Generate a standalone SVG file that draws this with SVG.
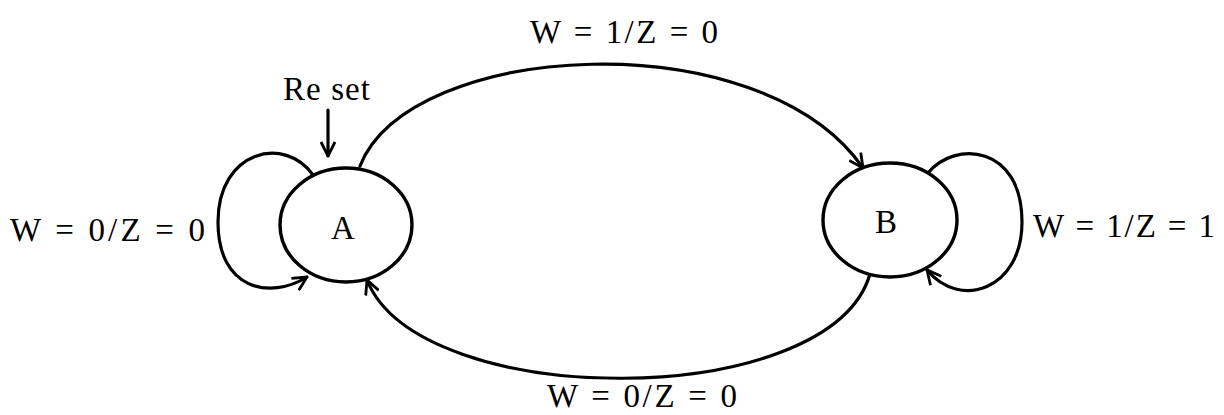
<svg xmlns="http://www.w3.org/2000/svg" width="1224" height="415" viewBox="0 0 1224 415">
<style>
.edge{fill:none;stroke:#000;stroke-width:3.2;stroke-linecap:round}
.node{fill:#fff;stroke:#000;stroke-width:3.4}
.t{font-family:"Liberation Serif","Times New Roman",serif;font-size:33px;fill:#000}
</style>
<defs>
<marker id="arr2" viewBox="0 0 16 16" refX="15" refY="8" markerWidth="16" markerHeight="16" markerUnits="userSpaceOnUse" orient="auto">
<path d="M1,1 L15,8 L1,15" fill="none" stroke="#000" stroke-width="2.8"/>
</marker>
</defs>
<rect width="1224" height="415" fill="#fff"/>
<g id="connectors">
<path class="edge" d="M360,166 C410,40 760,20 863,168" marker-end="url(#arr2)"/>
<path class="edge" d="M870,274 C830,412 420,412 367,280" marker-end="url(#arr2)"/>
<path class="edge" d="M313,175 C285,135 218,150 218,222 C218,290 270,300 307,277" marker-end="url(#arr2)"/>
<path class="edge" d="M928,173 C955,140 1022,145 1022,222 C1022,290 960,310 927,270" marker-end="url(#arr2)"/>
<line class="edge" x1="328" y1="110" x2="328" y2="156" marker-end="url(#arr2)"/>
<text class="t" x="530" y="43" textLength="188" lengthAdjust="spacing">W = 1/Z = 0</text>
<text class="t" x="547" y="407" textLength="190" lengthAdjust="spacing">W = 0/Z = 0</text>
<text class="t" x="10" y="241" textLength="195" lengthAdjust="spacing">W = 0/Z = 0</text>
<text class="t" x="1033" y="237" textLength="182" lengthAdjust="spacing">W = 1/Z = 1</text>
<text class="t" x="283" y="100" textLength="87" lengthAdjust="spacing">Re set</text>
</g>
<g id="nodeA">
<ellipse class="node" cx="346" cy="225" rx="66" ry="57"/>
<text class="t" x="343" y="239" text-anchor="middle">A</text>
</g>
<g id="nodeB">
<ellipse class="node" cx="890" cy="220" rx="67" ry="57"/>
<text class="t" x="886" y="233" text-anchor="middle">B</text>
</g>
</svg>
